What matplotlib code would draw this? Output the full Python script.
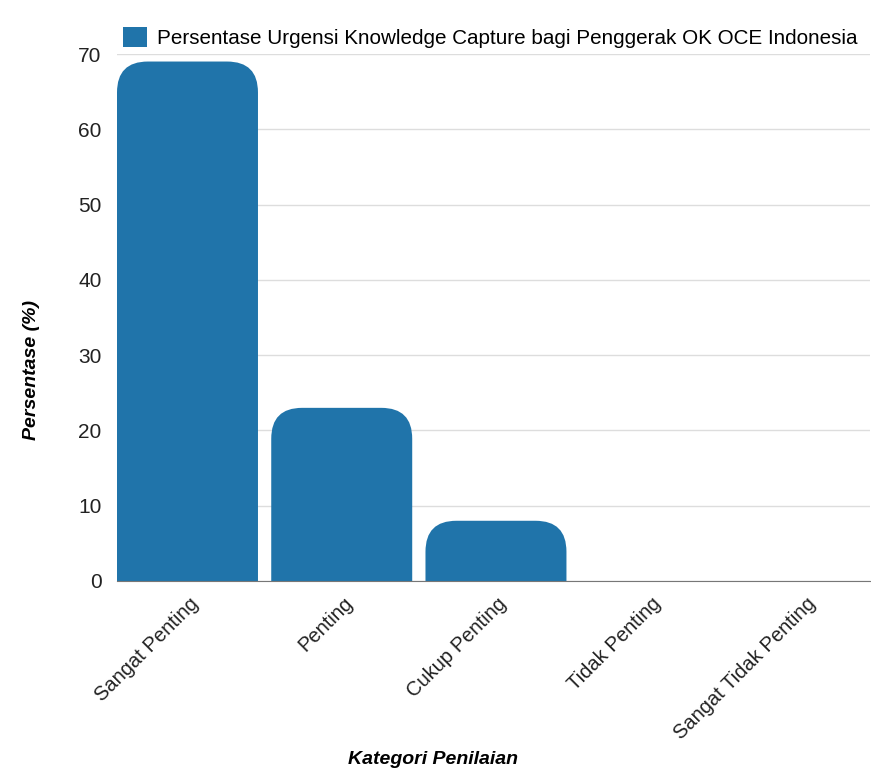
import numpy as np
import matplotlib
matplotlib.use("Agg")
import matplotlib.pyplot as plt
import matplotlib.transforms as mtransforms
from matplotlib.patches import FancyBboxPatch, Patch

plt.rcParams['font.family'] = ['Liberation Sans', 'DejaVu Sans']

# data
kategori = ['Sangat Penting', 'Penting', 'Cukup Penting', 'Tidak Penting', 'Sangat Tidak Penting']
persen = [69, 23, 8, 0, 0]
seri = 'Persentase Urgensi Knowledge Capture bagi Penggerak OK OCE Indonesia'
y_ticks = [0, 10, 20, 30, 40, 50, 60, 70]

warna = '#2074aa'

fig = plt.figure(figsize=(8.71, 7.71), dpi=100)
ax = fig.add_axes([117/871, 190/771, 753/871, 527/771])

x = np.arange(len(kategori))
lebar = 0.914
bars = ax.bar(x, persen, width=lebar, color=warna, label=seri)

# swap the plain rectangles for ones with rounded top corners
r = 0.2
for b in bars:
    h = b.get_height()
    b.set_visible(False)
    if h <= 0:
        continue
    p = FancyBboxPatch((b.get_x(), -5), b.get_width(), h + 5,
                       boxstyle="round,pad=0,rounding_size=%f" % r,
                       mutation_aspect=20.5, facecolor=warna, edgecolor='none',
                       zorder=2)
    ax.add_patch(p)

ax.set_xlim(-0.457, 4.425)
ax.set_ylim(0, 70)
ax.set_yticks(y_ticks)
ax.set_xticks(x)
ax.set_xticklabels(kategori, rotation=45, ha='right', va='center',
                   rotation_mode='anchor', fontsize=14.5, color='#222222')
ax.tick_params(axis='x', length=0, pad=14)
ax.tick_params(axis='y', length=0, pad=11, labelsize=15, labelcolor='#222222')
# nudge the rotated labels a little to the right
off = mtransforms.ScaledTranslation(8/100, 0, fig.dpi_scale_trans)
for t in ax.get_xticklabels():
    t.set_transform(t.get_transform() + off)

ax.grid(axis='y', color='#dddddd', linewidth=1)
ax.set_axisbelow(True)
for s in ['left', 'right', 'top']:
    ax.spines[s].set_visible(False)
ax.spines['bottom'].set_color('#777777')
ax.spines['bottom'].set_zorder(3)

ax.set_ylabel('Persentase (%)', fontsize=14, fontweight='bold', style='italic')
ax.yaxis.set_label_coords(-0.102, 0.4)
ax.set_xlabel('Kategori Penilaian', fontsize=14, fontweight='bold', style='italic')
ax.xaxis.set_label_coords(0.42, -0.322)

ax.legend(handles=[Patch(facecolor=warna, label=seri)], loc='lower left',
          bbox_to_anchor=(0.0, 1.0), frameon=False, fontsize=14.9,
          handlelength=1.15, handleheight=1.15, handletextpad=0.5,
          borderaxespad=0.1, borderpad=0.2)

fig.savefig('out.png', dpi=100)
